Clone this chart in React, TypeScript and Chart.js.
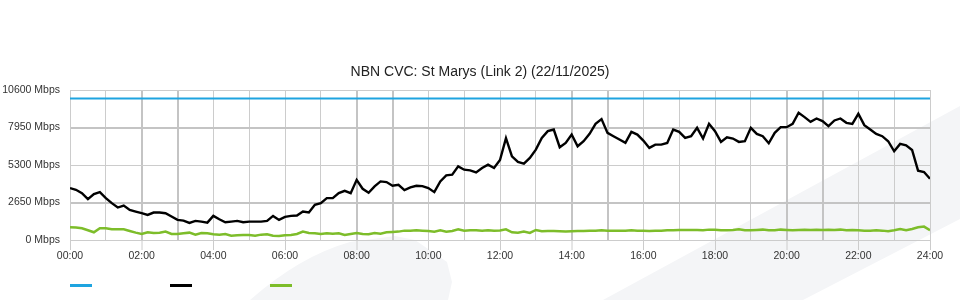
import React, { useEffect, useRef } from 'react';
import { Chart, registerables } from 'chart.js';

Chart.register(...registerables);

const TITLE = 'NBN CVC: St Marys (Link 2) (22/11/2025)';
const HOUR_LABELS = ['00:00', '02:00', '04:00', '06:00', '08:00', '10:00', '12:00', '14:00', '16:00', '18:00', '20:00', '22:00', '24:00'];
const Y_MAX = 10600;
const Y_STEP = 2650;
const INTERVAL_MIN = 10;

// capacity line (blue)
const capacityTimes = [0, 24];
const capacity = [10000, 10000];

// traffic (black), 10-minute samples from 00:00 to 24:00
const traffic = [
  3667, 3549, 3312, 2887, 3241, 3383, 2957, 2603, 2295, 2437,
  2129, 2011, 1893, 1775, 1940, 1940, 1893, 1656, 1420, 1372,
  1207, 1349, 1301, 1230, 1704, 1467, 1254, 1301, 1349, 1254,
  1301, 1301, 1301, 1349, 1704, 1420, 1630, 1704, 1727, 2011,
  1940, 2484, 2603, 2957, 2957, 3312, 3478, 3312, 4250, 3620,
  3336, 3786, 4140, 4093, 3833, 3904, 3525, 3715, 3833, 3809,
  3667, 3383, 4140, 4566, 4614, 5200, 4969, 4921, 4779, 5087,
  5324, 5087, 5650, 7200, 5915, 5513, 5400, 5797, 6388, 7216,
  7690, 7808, 6554, 6861, 7453, 6625, 6980, 7501, 8210, 8541,
  7571, 7335, 7098, 6861, 7642, 7453, 7027, 6507, 6743, 6743,
  6861, 7808, 7642, 7216, 7335, 7926, 7169, 8210, 7690, 6933,
  7264, 7169, 6933, 6980, 7926, 7501, 7335, 6838, 7571, 7973,
  7973, 8210, 8991, 8683, 8351, 8588, 8399, 8044, 8446, 8588,
  8281, 8210, 8920, 8115, 7808, 7501, 7335, 6980, 6270, 6791,
  6696, 6364, 4898, 4803, 4330,
];

// secondary traffic (green), 10-minute samples
const upstream = [
  899, 875, 828, 686, 544, 828, 828, 757, 757, 757,
  639, 520, 426, 544, 497, 520, 592, 426, 426, 473,
  520, 379, 497, 473, 402, 379, 426, 308, 331, 355,
  355, 308, 379, 402, 308, 284, 340, 355, 426, 592,
  497, 473, 426, 473, 450, 473, 355, 426, 497, 426,
  402, 497, 450, 544, 568, 592, 662, 662, 686, 662,
  639, 592, 686, 592, 639, 757, 662, 686, 686, 662,
  686, 662, 675, 757, 544, 520, 592, 497, 710, 615,
  639, 639, 615, 592, 615, 639, 639, 662, 662, 686,
  662, 662, 662, 662, 686, 662, 662, 639, 662, 662,
  686, 686, 710, 710, 710, 710, 686, 733, 720, 686,
  686, 710, 757, 686, 686, 710, 733, 686, 686, 733,
  710, 686, 710, 733, 710, 733, 710, 733, 710, 733,
  686, 710, 686, 662, 662, 686, 662, 615, 686, 781,
  686, 781, 899, 946, 686,
];

const COLORS = { capacity: '#1ea4e0', traffic: '#000000', upstream: '#7dbd2a' };
const FONT = 'Liberation Sans, Arial, sans-serif';
const GRID = '#cccccc';
const GRID_DARK = '#c4c4c4';

const watermark = {
  id: 'watermark',
  beforeDraw(chart: any) {
    const ctx = chart.ctx;
    ctx.save();
    ctx.fillStyle = '#f4f5f7';
    ctx.beginPath();
    ctx.moveTo(250, 300);
    ctx.quadraticCurveTo(300, 256, 350, 242);
    ctx.lineTo(395, 236);
    ctx.lineTo(415, 240);
    ctx.lineTo(447, 262);
    ctx.lineTo(452, 282);
    ctx.lineTo(448, 300);
    ctx.closePath();
    ctx.fill();
    ctx.beginPath();
    ctx.moveTo(603, 300);
    ctx.lineTo(960, 106);
    ctx.lineTo(960, 219);
    ctx.lineTo(803, 300);
    ctx.closePath();
    ctx.fill();
    ctx.restore();
  },
};

export default function App() {
  const ref = useRef<HTMLCanvasElement | null>(null);
  useEffect(() => {
    if (!ref.current) return;
    const toPts = (arr: number[]) => arr.map((y, i) => ({ x: (i * INTERVAL_MIN) / 60, y }));
    const chart = new Chart(ref.current, {
      type: 'line',
      data: {
        datasets: [
          {
            label: 'Capacity',
            data: capacityTimes.map((x, i) => ({ x, y: capacity[i] })),
            borderColor: COLORS.capacity,
            borderWidth: 2,
            pointRadius: 0,
          },
          {
            label: 'Traffic',
            data: toPts(traffic),
            borderColor: COLORS.traffic,
            borderWidth: 2.4,
            pointRadius: 0,
            tension: 0,
          },
          {
            label: 'Upstream',
            data: toPts(upstream),
            borderColor: COLORS.upstream,
            borderWidth: 2.5,
            pointRadius: 0,
            tension: 0,
          },
        ],
      },
      options: {
        animation: false,
        responsive: false,
        layout: { padding: { left: 0, right: 30, top: 90, bottom: 30 } },
        plugins: { legend: { display: false }, title: { display: false }, tooltip: { enabled: false } },
        scales: {
          x: {
            type: 'linear',
            min: 0,
            max: 24,
            afterFit: (s: any) => { s.height = 30; },
            ticks: {
              stepSize: 1,
              autoSkip: false,
              maxRotation: 0,
              padding: 0,
              color: '#333',
              font: { family: FONT, size: 10.5 },
              callback: (v: any) => (Number(v) % 2 === 0 ? HOUR_LABELS[Number(v) / 2] : ''),
            },
            grid: {
              color: (c: any) => ([2, 3].includes(Number(c.tick?.value) % 6) ? GRID_DARK : GRID),
              lineWidth: (c: any) => ([2, 3].includes(Number(c.tick?.value) % 6) ? 2 : 1),
              tickLength: 10,
              tickColor: (c: any) => (Number(c.tick?.value) % 2 === 0 ? GRID : 'rgba(0,0,0,0)'),
              tickWidth: 1,
            },
            border: { color: GRID },
          },
          y: {
            min: 0,
            max: Y_MAX,
            afterFit: (s: any) => { s.width = 70; },
            ticks: {
              stepSize: Y_STEP,
              padding: 10,
              color: '#333',
              font: { family: FONT, size: 10.5 },
              callback: (v: any) => `${v} Mbps`,
            },
            grid: {
              drawTicks: false,
              color: (c: any) => (Number(c.tick?.value) % (2 * Y_STEP) === Y_STEP ? GRID_DARK : GRID),
              lineWidth: (c: any) => (Number(c.tick?.value) % (2 * Y_STEP) === Y_STEP ? 2 : 1),
            },
            border: { color: GRID },
          },
        },
      },
      plugins: [watermark],
    });
    return () => chart.destroy();
  }, []);

  const legendItem = (left: number, color: string) => (
    <div style={{ position: 'absolute', left, top: 284, width: 22, height: 2.5, background: color }} />
  );

  return (
    <div style={{ position: 'fixed', left: 0, top: 0, width: 960, height: 300, background: '#fff', overflow: 'hidden' }}>
      <canvas ref={ref} width={960} height={300} style={{ position: 'absolute', left: 0, top: 0 }} />
      <div
        style={{
          position: 'absolute',
          left: 0,
          top: 63,
          width: 960,
          textAlign: 'center',
          fontFamily: FONT,
          fontSize: 14,
          lineHeight: '16px',
          color: '#222',
        }}
      >
        {TITLE}
      </div>
      {legendItem(69.5, COLORS.capacity)}
      {legendItem(169.5, COLORS.traffic)}
      {legendItem(269.5, COLORS.upstream)}
    </div>
  );
}
